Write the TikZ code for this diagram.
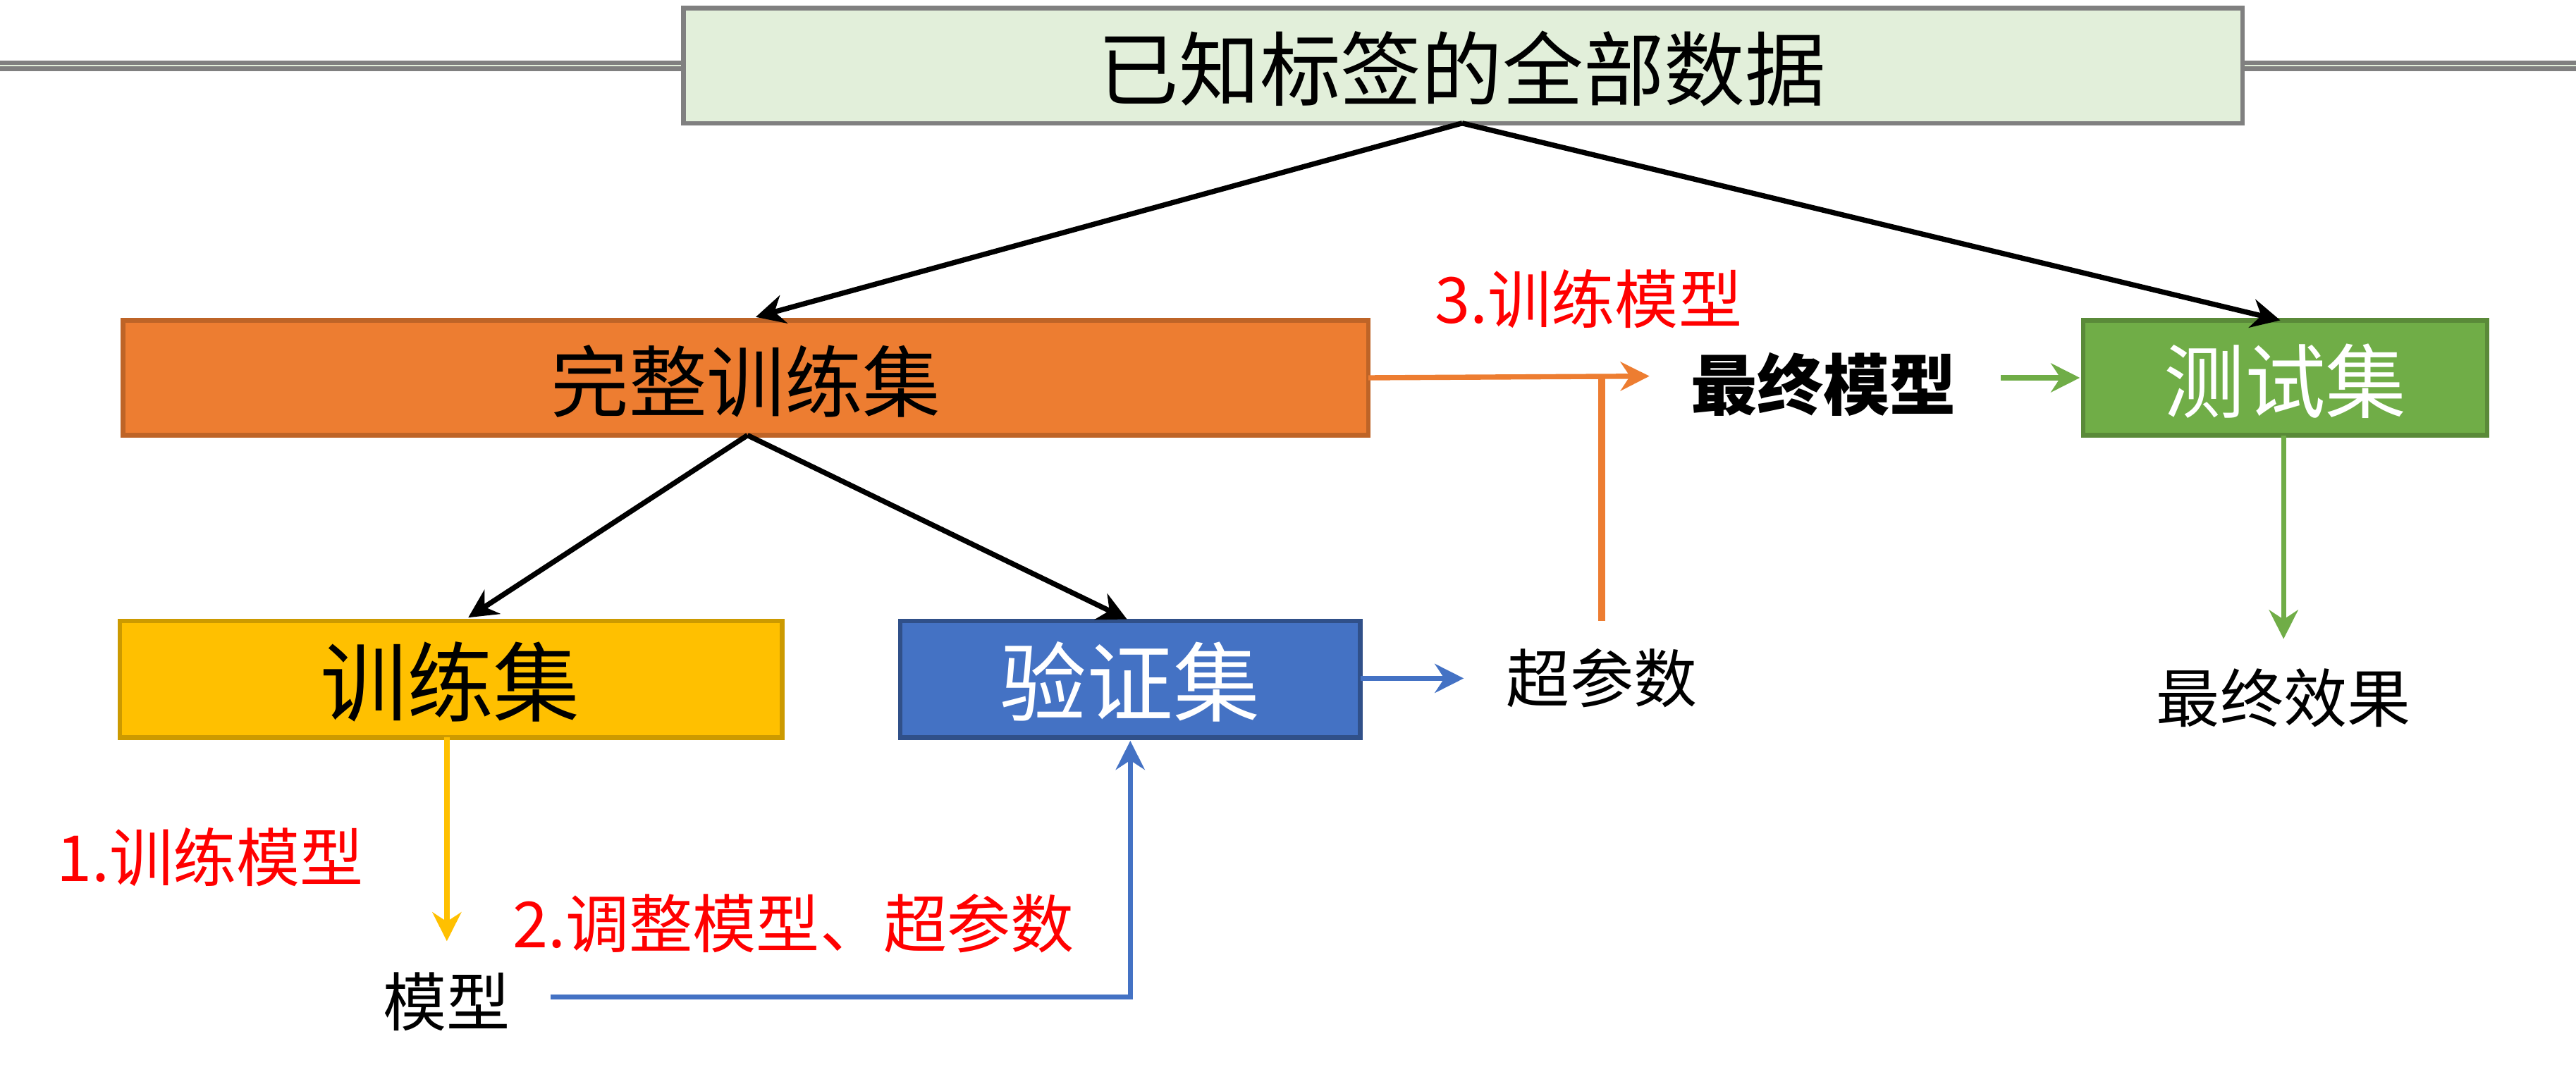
\documentclass[tikz,border=0pt]{standalone}
\usepackage{fontspec}
\setmainfont{Noto Sans CJK SC}
\usetikzlibrary{arrows.meta}
\definecolor{tg}{HTML}{E2EFDA}
\definecolor{orng}{HTML}{ED7D31}
\definecolor{gold}{HTML}{FFC000}
\definecolor{blu}{HTML}{4472C4}
\definecolor{grn}{HTML}{70AD47}
\begin{document}
\begin{tikzpicture}[x=0.01cm,y=-0.01cm,
 box/.style={draw,line width=0.8pt,inner sep=0pt},
 arr/.style={-{Stealth[length=5pt,width=5pt]},line width=0.9pt},
 lab/.style={font=\fontsize{11pt}{13pt}\selectfont},
 red lab/.style={lab,text=red}]
\useasboundingbox[fill=white] (0,0) rectangle (1568,648);
\node[box,draw=gray,fill=tg,minimum width=949\pgflinewidth,anchor=center] (all) at (890,40) {};
\path[box,draw=gray,fill=tg] (416,5) rectangle (1365,75);
\node[font=\fontsize{14pt}{16pt}\selectfont] (allt) at (890,42) {已知标签的全部数据};
\path[box,draw=orng!80!black,fill=orng] (75,195) rectangle (833,265);
\node[font=\fontsize{13.5pt}{16pt}\selectfont] (full) at (454,232) {完整训练集};
\path[box,draw=gold!80!black,fill=gold] (73,378) rectangle (476,449);
\node[font=\fontsize{15pt}{18pt}\selectfont] (tr) at (274,415) {训练集};
\path[box,draw=blu!70!black,fill=blu] (548,378) rectangle (828,449);
\node[font=\fontsize{15pt}{18pt}\selectfont,text=white] (val) at (688,415) {验证集};
\path[box,draw=grn!80!black,fill=grn] (1268,195) rectangle (1514,265);
\node[font=\fontsize{14pt}{17pt}\selectfont,text=white] (test) at (1391,232) {测试集};
\node[lab,font=\fontsize{11.5pt}{13pt}\selectfont\bfseries] (fm) at (1110,234) {最终模型};
\node[lab] (hp) at (975,413) {超参数};
\node[lab] (fe) at (1390,425) {最终效果};
\node[lab] (md) at (272,610) {模型};
\node[red lab] (l3) at (967,182) {3.训练模型};
\node[red lab] (l1) at (128,522) {1.训练模型};
\node[red lab] (l2) at (483,562) {2.调整模型、超参数};
\coordinate (a0) at (890,75);
\draw[arr] (a0) -- (460,193);
\draw[arr] (a0) -- (1388,195);
\coordinate (f0) at (455,265);
\draw[arr] (f0) -- (285,376);
\draw[arr] (f0) -- (686,377);
\draw[arr,orng] (833,230) -- (1004,229);
\draw[orng,line width=1.2pt] (975,378) -- (975,229);
\draw[arr,grn] (1218,230) -- (1266,230);
\draw[arr,grn] (1390,265) -- (1390,389);
\draw[arr,gold] (272,449) -- (272,573);
\draw[arr,blu] (335,607) -- (688,607) -- (688,451);
\draw[arr,blu] (828,413) -- (891,413);
\end{tikzpicture}
\end{document}
